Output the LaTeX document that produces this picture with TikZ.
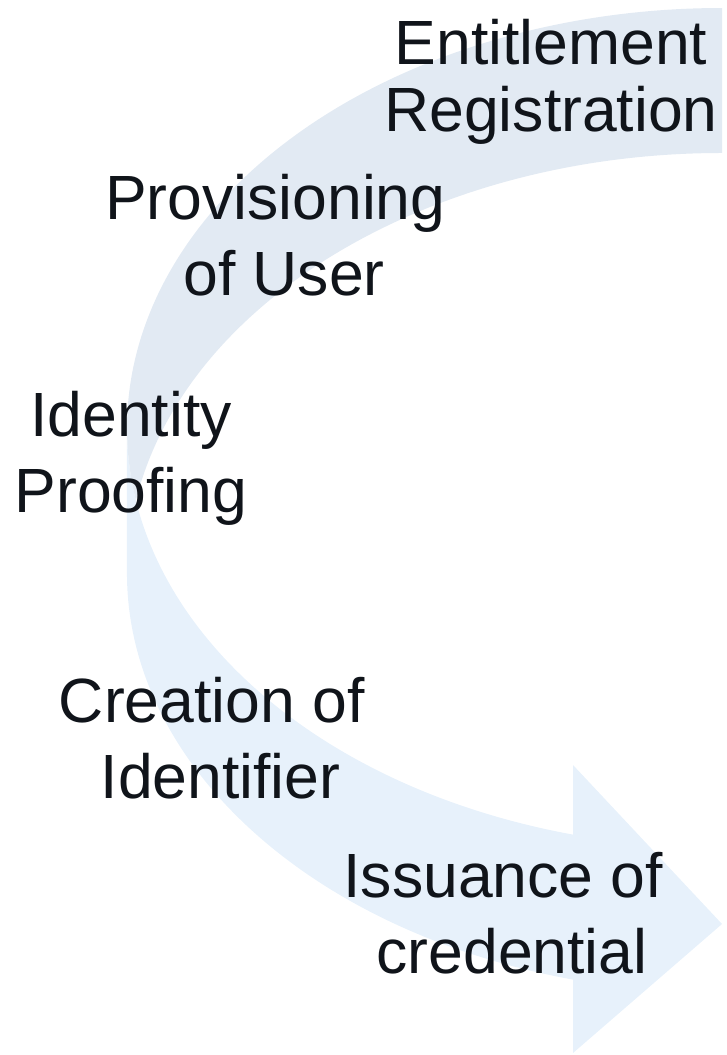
\documentclass[tikz,border=0pt]{standalone}
\usepackage{fontspec}
\setmainfont{Liberation Sans}
\definecolor{bandback}{RGB}{226,234,243}
\definecolor{bandfront}{RGB}{231,241,251}
\definecolor{inktext}{RGB}{16,20,26}
\begin{document}
\begin{tikzpicture}[x=1pt,y=-1pt,
		lbl/.style={font=\fontsize{62.5}{76}\selectfont, text=inktext, align=center, anchor=base, inner sep=0pt},
		band/.style={x radius=595, y radius=420}]
		\useasboundingbox (0,0) rectangle (726,1055);
		\fill[bandfront] (127,428) arc[band, start angle=180, end angle=104.5] -- (573,765) --
		(722,924) -- (573,1053) -- (573,979.6) arc[band, start angle=104.5, end angle=180] -- cycle;
		\fill[bandback] (722,8) arc[band, start angle=270, end angle=170.06]
		arc[band, start angle=189.94, end angle=270] -- cycle;
		\node[lbl, font=\fontsize{62.5}{67}\selectfont] (entitle) at (551,131) {Entitlement\\Registration};
		\node[lbl] (provision) at (284,295) {Provisioning\hspace*{0.28em}\\of User};
		\node[lbl] (proofing) at (131,512) {Identity\\Proofing};
		\node[lbl] (creation) at (220.5,798) {Creation of\hspace*{0.28em}\\Identifier};
		\node[lbl] (issuance) at (512,973) {Issuance of\hspace*{0.28em}\\credential};
	\end{tikzpicture}
\end{document}
